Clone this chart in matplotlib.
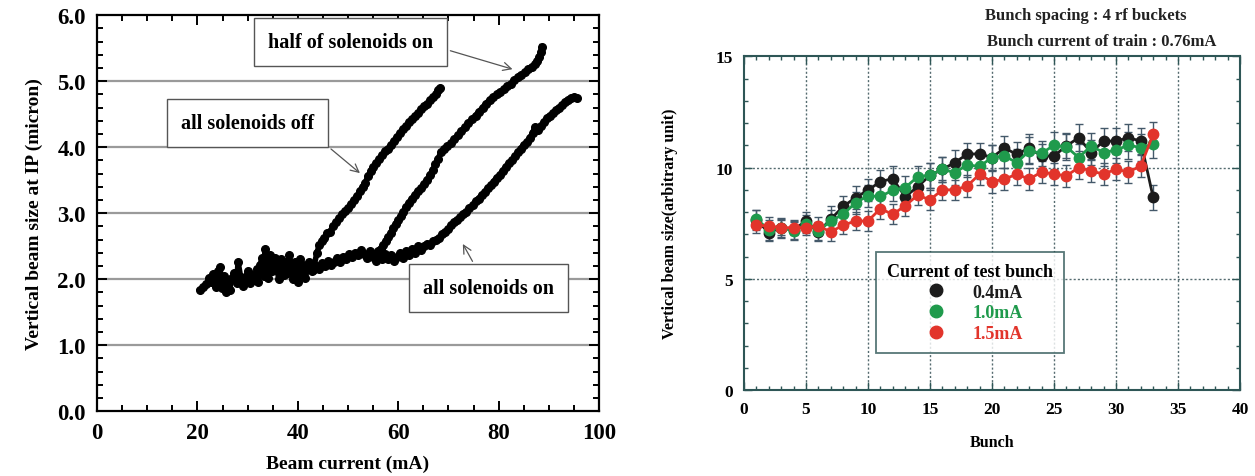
import matplotlib
matplotlib.use("Agg")
import matplotlib.pyplot as plt
from matplotlib.ticker import MultipleLocator
from matplotlib.lines import Line2D

plt.rcParams['font.family'] = ['Liberation Serif', 'DejaVu Serif']
plt.rcParams['font.weight'] = 'bold'

# ---- left panel data: beam size vs beam current ----
off_x = [20.5, 21.2, 21.8, 22.3, 22.8, 23.2, 23.7, 24.1, 24.5, 24.9, 25.2, 25.6, 26.0, 26.4,
         26.9, 27.3, 27.8, 28.1, 28.6, 29.0, 29.5, 30.0, 30.4, 30.9, 31.3, 31.8, 32.1, 32.5,
         32.9, 33.2, 33.5, 33.8, 34.1, 34.5, 34.8, 35.2, 35.5, 35.9, 36.2, 36.6, 36.9, 37.3,
         37.6, 38.0, 38.3, 38.7, 39.0, 39.4, 39.7, 40.1, 40.4, 40.8, 41.1, 41.5, 41.9, 42.3,
         42.8, 43.3, 43.8, 44.3, 44.8, 45.3, 45.9, 46.4, 47.0, 47.6, 48.2, 48.8, 49.4, 50.0,
         50.6, 51.2, 51.8, 52.4, 52.9, 53.4, 54.0, 54.5, 55.0, 55.6, 56.2, 56.8, 57.4, 58.0,
         58.6, 59.2, 59.8, 60.4, 61.0, 61.6, 62.2, 62.8, 63.4, 64.0, 64.6, 65.2, 65.8, 66.4,
         67.0, 67.5, 68.0, 68.3]
off_y = [1.84, 1.88, 1.92, 2.02, 1.95, 2.08, 1.88, 2.12, 2.18, 1.86, 2.05, 1.80, 1.96, 1.84,
         2.02, 2.10, 1.94, 2.26, 2.04, 1.90, 2.00, 2.12, 1.94, 2.06, 1.98, 2.16, 1.96, 2.22,
         2.32, 2.05, 2.46, 2.20, 2.02, 2.36, 2.12, 2.26, 2.32, 2.14, 2.00, 2.30, 2.20, 2.06,
         2.26, 2.10, 2.36, 2.20, 2.00, 2.26, 2.14, 1.96, 2.30, 2.10, 2.22, 2.02, 2.16, 2.26,
         2.12, 2.22, 2.40, 2.52, 2.58, 2.62, 2.70, 2.72, 2.80, 2.86, 2.92, 2.98, 3.04, 3.08,
         3.14, 3.20, 3.26, 3.34, 3.40, 3.46, 3.56, 3.64, 3.70, 3.76, 3.82, 3.88, 3.94, 3.98,
         4.04, 4.10, 4.16, 4.22, 4.28, 4.32, 4.38, 4.42, 4.48, 4.52, 4.58, 4.62, 4.66, 4.72,
         4.76, 4.80, 4.86, 4.89]

half_x = [55.5, 56.0, 56.5, 57.0, 57.5, 58.0, 58.5, 59.0, 59.5, 60.0, 60.5, 61.0, 61.6,
          62.1, 62.7, 63.3, 63.9, 64.5, 65.1, 65.7, 66.3, 66.9, 67.4, 67.9, 68.5, 69.1,
          69.8, 70.5, 71.2, 71.9, 72.6, 73.3, 74.0, 74.7, 75.4, 76.1, 76.8, 77.5, 78.2,
          78.9, 79.6, 80.3, 81.0, 81.7, 82.4, 83.1, 83.8, 84.5, 85.2, 85.9, 86.6, 87.2,
          87.7, 88.1, 88.4, 88.6]
half_y = [2.38, 2.42, 2.46, 2.52, 2.58, 2.64, 2.70, 2.78, 2.84, 2.90, 2.96, 3.02, 3.10,
          3.16, 3.22, 3.28, 3.34, 3.38, 3.44, 3.50, 3.58, 3.66, 3.74, 3.82, 3.92, 3.98,
          4.02, 4.06, 4.12, 4.18, 4.24, 4.30, 4.36, 4.42, 4.48, 4.54, 4.60, 4.66, 4.72,
          4.76, 4.80, 4.84, 4.88, 4.92, 4.96, 5.02, 5.06, 5.10, 5.14, 5.18, 5.22, 5.26,
          5.30, 5.36, 5.44, 5.52]

on_x = [43.0, 43.6, 44.2, 44.8, 45.4, 46.0, 46.6, 47.2, 47.8, 48.4, 49.0, 49.6, 50.2, 50.8,
        51.4, 52.0, 52.6, 53.2, 53.8, 54.4, 55.0, 55.6, 56.2, 56.8, 57.4, 58.0, 58.6, 59.2,
        59.8, 60.4, 61.0, 61.6, 62.2, 62.8, 63.4, 64.0, 64.6, 65.2, 65.8, 66.4, 67.0, 67.6,
        68.2, 68.8, 69.4, 70.0, 70.6, 71.2, 71.8, 72.4, 73.0, 73.6, 74.2, 74.8, 75.4, 76.0,
        76.6, 77.2, 77.8, 78.4, 79.0, 79.6, 80.2, 80.8, 81.4, 82.0, 82.6, 83.2, 83.8, 84.4,
        85.0, 85.6, 86.2, 86.8, 87.2, 87.8, 88.4, 89.0, 89.6, 90.2, 90.8, 91.4, 92.0, 92.6,
        93.2, 93.8, 94.4, 95.0, 95.6]
on_y = [2.14, 2.20, 2.16, 2.24, 2.20, 2.28, 2.22, 2.26, 2.32, 2.26, 2.34, 2.30, 2.38, 2.34,
        2.40, 2.36, 2.44, 2.38, 2.32, 2.42, 2.34, 2.28, 2.36, 2.30, 2.38, 2.30, 2.36, 2.28,
        2.34, 2.40, 2.32, 2.42, 2.36, 2.46, 2.40, 2.50, 2.44, 2.50, 2.54, 2.52, 2.58, 2.60,
        2.62, 2.68, 2.72, 2.76, 2.82, 2.86, 2.90, 2.94, 2.98, 3.02, 3.08, 3.12, 3.18, 3.22,
        3.28, 3.32, 3.38, 3.42, 3.48, 3.54, 3.58, 3.64, 3.70, 3.76, 3.80, 3.86, 3.92, 3.98,
        4.04, 4.08, 4.14, 4.22, 4.30, 4.26, 4.32, 4.38, 4.44, 4.48, 4.52, 4.56, 4.60, 4.64,
        4.68, 4.72, 4.74, 4.76, 4.74]

# ---- right panel data: beam size along the train ----
bunch = list(range(1, 34))
size_04 = [7.65, 7.08, 7.30, 7.20, 7.60, 7.11, 7.68, 8.25, 8.65, 8.98, 9.37, 9.50, 8.69,
           9.13, 9.65, 9.92, 10.22, 10.60, 10.62, 10.45, 10.87, 10.60, 10.87, 10.52, 10.52,
           10.97, 11.34, 10.67, 11.19, 11.19, 11.34, 11.19, 8.66]
err_04 = [0.45, 0.40, 0.45, 0.40, 0.40, 0.40, 0.60, 0.45, 0.50, 0.50, 0.50, 0.55, 0.45,
          0.50, 0.55, 0.55, 0.55, 0.50, 0.50, 0.55, 0.55, 0.55, 0.65, 0.55, 0.60, 0.55,
          0.60, 0.55, 0.60, 0.60, 0.60, 0.60, 0.55]
size_10 = [7.70, 7.20, 7.30, 7.15, 7.45, 7.15, 7.60, 7.90, 8.42, 8.73, 8.70, 8.98, 9.10,
           9.58, 9.65, 9.92, 9.77, 10.12, 10.05, 10.45, 10.52, 10.22, 10.75, 10.64, 11.00,
           10.93, 10.45, 10.97, 10.67, 10.79, 11.00, 10.90, 11.04]
err_10 = [0.40, 0.45, 0.40, 0.40, 0.40, 0.40, 0.50, 0.45, 0.50, 0.50, 0.50, 0.50, 0.50,
          0.50, 0.55, 0.55, 0.55, 0.55, 0.55, 0.55, 0.55, 0.60, 0.60, 0.55, 0.60, 0.60,
          0.60, 0.60, 0.60, 0.60, 0.60, 0.60, 0.60]
size_15 = [7.41, 7.38, 7.30, 7.30, 7.30, 7.38, 7.11, 7.41, 7.60, 7.60, 8.15, 7.90, 8.28,
           8.76, 8.55, 9.00, 9.00, 9.17, 9.70, 9.36, 9.48, 9.70, 9.48, 9.80, 9.70, 9.63,
           10.00, 9.85, 9.70, 9.93, 9.80, 10.07, 11.49]
err_15 = [0.35, 0.40, 0.35, 0.35, 0.35, 0.40, 0.40, 0.40, 0.40, 0.45, 0.45, 0.45, 0.45,
          0.45, 0.45, 0.45, 0.45, 0.50, 0.50, 0.50, 0.50, 0.50, 0.50, 0.50, 0.50, 0.50,
          0.50, 0.50, 0.50, 0.50, 0.50, 0.50, 0.55]
series_labels = ['0.4mA', '1.0mA', '1.5mA']
series_colors = ['#1c1c1c', '#1f9a4c', '#e2342b']

fig = plt.figure(figsize=(12.55, 4.77), dpi=100)

# ================= left panel =================
ax1 = fig.add_axes([0.0773, 0.136, 0.4, 0.830])
for v in [1, 2, 3, 4, 5]:
    ax1.axhline(v, color='#9a9a9a', lw=1.6, zorder=1)
for xs, ys in [(off_x, off_y), (half_x, half_y), (on_x, on_y)]:
    ax1.plot(xs, ys, color='black', lw=4.0, marker='o', ms=5.5, zorder=3)

ax1.set_xlim(0, 100)
ax1.set_ylim(0, 6)
ax1.xaxis.set_major_locator(MultipleLocator(20))
ax1.xaxis.set_minor_locator(MultipleLocator(5))
ax1.yaxis.set_major_locator(MultipleLocator(1))
ax1.yaxis.set_minor_locator(MultipleLocator(0.2))
ax1.set_yticks([0, 1, 2, 3, 4, 5, 6])
ax1.set_yticklabels(['0.0', '1.0', '2.0', '3.0', '4.0', '5.0', '6.0'])
ax1.tick_params(which='both', direction='in', top=True, right=True, width=1.4,
                labelsize=16.5)
ax1.tick_params(which='major', length=7, pad=8)
ax1.tick_params(which='minor', length=4)
for s in ax1.spines.values():
    s.set_linewidth(1.6)
ax1.set_xlabel('Beam current (mA)', fontsize=14, fontweight='bold', labelpad=8)
ax1.set_ylabel('Vertical beam size at IP (micron)', fontsize=14, fontweight='bold',
               labelpad=10)

ax1.annotate('half of solenoids on', xy=(83.3, 5.17), xytext=(50.5, 5.6),
             fontsize=14.5, fontweight='bold', ha='center', va='center',
             bbox=dict(boxstyle='square,pad=0.7', fc='white', ec='#555555', lw=1.0),
             arrowprops=dict(arrowstyle='->', color='#555555', lw=0.9,
                             relpos=(1.0, 0.3)), zorder=5)
ax1.annotate('all solenoids off', xy=(52.8, 3.58), xytext=(30.0, 4.37),
             fontsize=14.5, fontweight='bold', ha='center', va='center',
             bbox=dict(boxstyle='square,pad=0.7', fc='white', ec='#555555', lw=1.0),
             arrowprops=dict(arrowstyle='->', color='#555555', lw=0.9,
                             relpos=(0.98, 0.0)), zorder=5)
ax1.annotate('all solenoids on', xy=(72.6, 2.57), xytext=(78.0, 1.86),
             fontsize=14.5, fontweight='bold', ha='center', va='center',
             bbox=dict(boxstyle='square,pad=0.7', fc='white', ec='#555555', lw=1.0),
             arrowprops=dict(arrowstyle='->', color='#555555', lw=0.9,
                             relpos=(0.45, 1.0)), zorder=5)

# ================= right panel =================
ax2 = fig.add_axes([0.5928, 0.180, 0.3952, 0.700])
spine_col = '#2e5656'
for v in [5, 10]:
    ax2.axhline(v, color='#556b70', lw=1.0, ls=(0, (1.5, 1.5)), zorder=1)
for v in [5, 10, 15, 20, 25, 30, 35]:
    ax2.axvline(v, color='#556b70', lw=1.0, ls=(0, (1.5, 1.5)), zorder=1)

for ys, es in [(size_04, err_04), (size_10, err_10), (size_15, err_15)]:
    ax2.errorbar(bunch, ys, yerr=es, fmt='none', ecolor='#44596a', elinewidth=1.0,
                 capsize=3, capthick=1.0, zorder=2)
for ys, c in [(size_04, series_colors[0]), (size_10, series_colors[1]),
              (size_15, series_colors[2])]:
    ax2.plot(bunch, ys, color=c, lw=2.0, marker='o', ms=7.5, zorder=3)

ax2.set_xlim(0, 40)
ax2.set_ylim(0, 15)
ax2.xaxis.set_major_locator(MultipleLocator(5))
ax2.xaxis.set_minor_locator(MultipleLocator(1))
ax2.yaxis.set_major_locator(MultipleLocator(5))
ax2.yaxis.set_minor_locator(MultipleLocator(1))
ax2.tick_params(which='both', direction='in', top=True, right=True, width=1.0,
                color=spine_col, labelsize=12.5)
ax2.tick_params(which='major', length=6, pad=8)
ax2.tick_params(which='minor', length=3)
for s in ax2.spines.values():
    s.set_linewidth(1.5)
    s.set_color(spine_col)
ax2.set_xlabel('Bunch', fontsize=11.5, fontweight='bold', labelpad=12)
ax2.set_ylabel('Vertical beam size(arbitrary unit)', fontsize=11.5, fontweight='bold',
               labelpad=27)

fig.text(0.865, 0.966, 'Bunch spacing : 4 rf buckets', fontsize=12,
         fontweight='bold', ha='center', va='center', color='#222222')
fig.text(0.878, 0.912, 'Bunch current of train : 0.76mA', fontsize=12,
         fontweight='bold', ha='center', va='center', color='#222222')

handles = [Line2D([], [], ls='none', marker='o', ms=9, color=c) for c in series_colors]
leg = ax2.legend(handles, series_labels, title='Current of test bunch',
                 loc='upper left', bbox_to_anchor=(0.267, 0.413), fontsize=13,
                 title_fontsize=13, frameon=True, fancybox=False, borderpad=0.6,
                 labelspacing=0.2, handletextpad=1.0, borderaxespad=0)
leg.get_frame().set_edgecolor(spine_col)
leg.get_frame().set_linewidth(1.3)
leg.get_title().set_fontweight('bold')
for t, c in zip(leg.get_texts(), series_colors):
    t.set_color(c)
    t.set_fontweight('bold')

fig.savefig('out.png', dpi=100)
